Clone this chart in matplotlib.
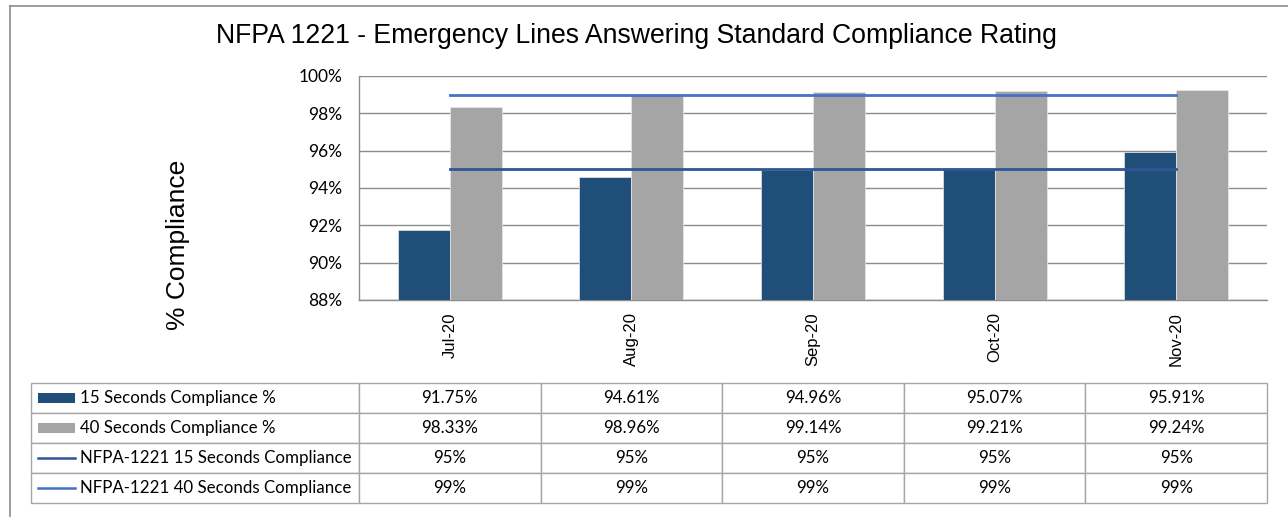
import matplotlib
matplotlib.use("Agg")
import matplotlib.pyplot as plt
from matplotlib.patches import Rectangle
from matplotlib.lines import Line2D
import numpy as np

# --- datos ---
meses = ["Jul-20", "Aug-20", "Sep-20", "Oct-20", "Nov-20"]
cumpl_15 = [91.75, 94.61, 94.96, 95.07, 95.91]
cumpl_40 = [98.33, 98.96, 99.14, 99.21, 99.24]
nfpa_15 = [95, 95, 95, 95, 95]
nfpa_40 = [99, 99, 99, 99, 99]
series_labels = ["15 Seconds Compliance %", "40 Seconds Compliance %",
                 "NFPA-1221 15 Seconds Compliance", "NFPA-1221 40 Seconds Compliance"]
yticks = [88, 90, 92, 94, 96, 98, 100]

C_DARK = "#1F4E79"
C_GREY = "#A5A5A5"
C_L15 = "#2F5597"
C_L40 = "#4472C4"
C_GRID = "#8C8C8C"
TXT_FONT = ["Lato", "DejaVu Sans"]

W, H = 1288, 517
fig = plt.figure(figsize=(W / 100, H / 100), dpi=100)

# area del grafico (px medidos en la referencia)
ax_l, ax_r, ax_t, ax_b = 359, 1267, 76, 300
ax = fig.add_axes([ax_l / W, 1 - ax_b / H, (ax_r - ax_l) / W, (ax_b - ax_t) / H])

x = np.arange(len(meses))
bw = 0.286
ax.bar(x - bw / 2, cumpl_15, width=bw, color=C_DARK, edgecolor="#E8E8E8", lw=0.5, zorder=3)
ax.bar(x + bw / 2, cumpl_40, width=bw, color=C_GREY, edgecolor="#E8E8E8", lw=0.5, zorder=3)
ax.plot(x, nfpa_15, color=C_L15, lw=2.0, zorder=4)
ax.plot(x, nfpa_40, color=C_L40, lw=2.0, zorder=4)

ax.set_xlim(-0.5, len(meses) - 0.5)
ax.set_ylim(88, 100)
ax.set_yticks(yticks)
ax.set_yticklabels([f"{v}%" for v in yticks], fontfamily=TXT_FONT, fontsize=12.5)
ax.set_xticks(x)
ax.set_xticklabels(meses, rotation=90, fontfamily="Liberation Sans", fontsize=12)
ax.tick_params(axis="y", length=0, pad=12)
ax.tick_params(axis="x", length=0, pad=9)
ax.grid(axis="y", color=C_GRID, lw=1, zorder=0)
for s in ["top", "right"]:
    ax.spines[s].set_visible(False)
for s in ["left", "bottom"]:
    ax.spines[s].set_color(C_GRID)
    ax.spines[s].set_linewidth(1)

fig.text(636 / W, 1 - 36 / H,
         "NFPA 1221 - Emergency Lines Answering Standard Compliance Rating",
         ha="center", va="center", fontsize=19.2, fontfamily="Liberation Sans")
fig.text(178 / W, 1 - 245 / H, "% Compliance", rotation=90, ha="center", va="center",
         fontsize=19, fontfamily="Liberation Sans")

# --- tabla de datos ---
rows = [
    [f"{v:.2f}%" for v in cumpl_15],
    [f"{v:.2f}%" for v in cumpl_40],
    [f"{v}%" for v in nfpa_15],
    [f"{v}%" for v in nfpa_40],
]
cell_text = [[lab] + r for lab, r in zip(series_labels, rows)]
aw, ah = ax_r - ax_l, ax_b - ax_t
tb_l, tb_t, tb_b = 31, 383, 503
bbox = [(tb_l - ax_l) / aw, (ax_b - tb_b) / ah, (ax_r - tb_l) / aw, (tb_b - tb_t) / ah]
first_w = ax_l - tb_l
col_w = [first_w] + [aw / len(meses)] * len(meses)
tbl = ax.table(cellText=cell_text, colWidths=col_w, bbox=bbox, cellLoc="center")
tbl.auto_set_font_size(False)
tbl.set_fontsize(12.2)
for (r, c), cell in tbl.get_celld().items():
    cell.set_edgecolor("#A6A6A6")
    cell.set_linewidth(1)
    cell.get_text().set_fontfamily(TXT_FONT)
    if c == 0:
        cell.get_text().set_ha("left")
        cell._loc = "left"
        cell.PAD = 48.5 / first_w

# claves de leyenda en la primera columna
kx0, kx1 = (37.5 - ax_l) / aw, (74.7 - ax_l) / aw
row_y = [(ax_b - yc) / ah for yc in (398, 428, 458, 488)]
kh = 10 / ah
for yc, col in zip(row_y[:2], [C_DARK, C_GREY]):
    ax.add_patch(Rectangle((kx0, yc - kh / 2), kx1 - kx0, kh, transform=ax.transAxes,
                           facecolor=col, edgecolor="none", clip_on=False, zorder=5))
for yc, col in zip(row_y[2:], [C_L15, C_L40]):
    ax.add_line(Line2D([kx0, kx1], [yc, yc], transform=ax.transAxes, color=col,
                       lw=1.8, clip_on=False, zorder=5))

# borde exterior del grafico (cortado a la derecha y abajo)
bx, by = 10 / W, 1 - 6 / H
fig.add_artist(Line2D([bx, 1], [by, by], color="#8C8C8C", lw=1.2))
fig.add_artist(Line2D([bx, bx], [0, by], color="#8C8C8C", lw=1.2))

fig.savefig("out.png", dpi=100)
